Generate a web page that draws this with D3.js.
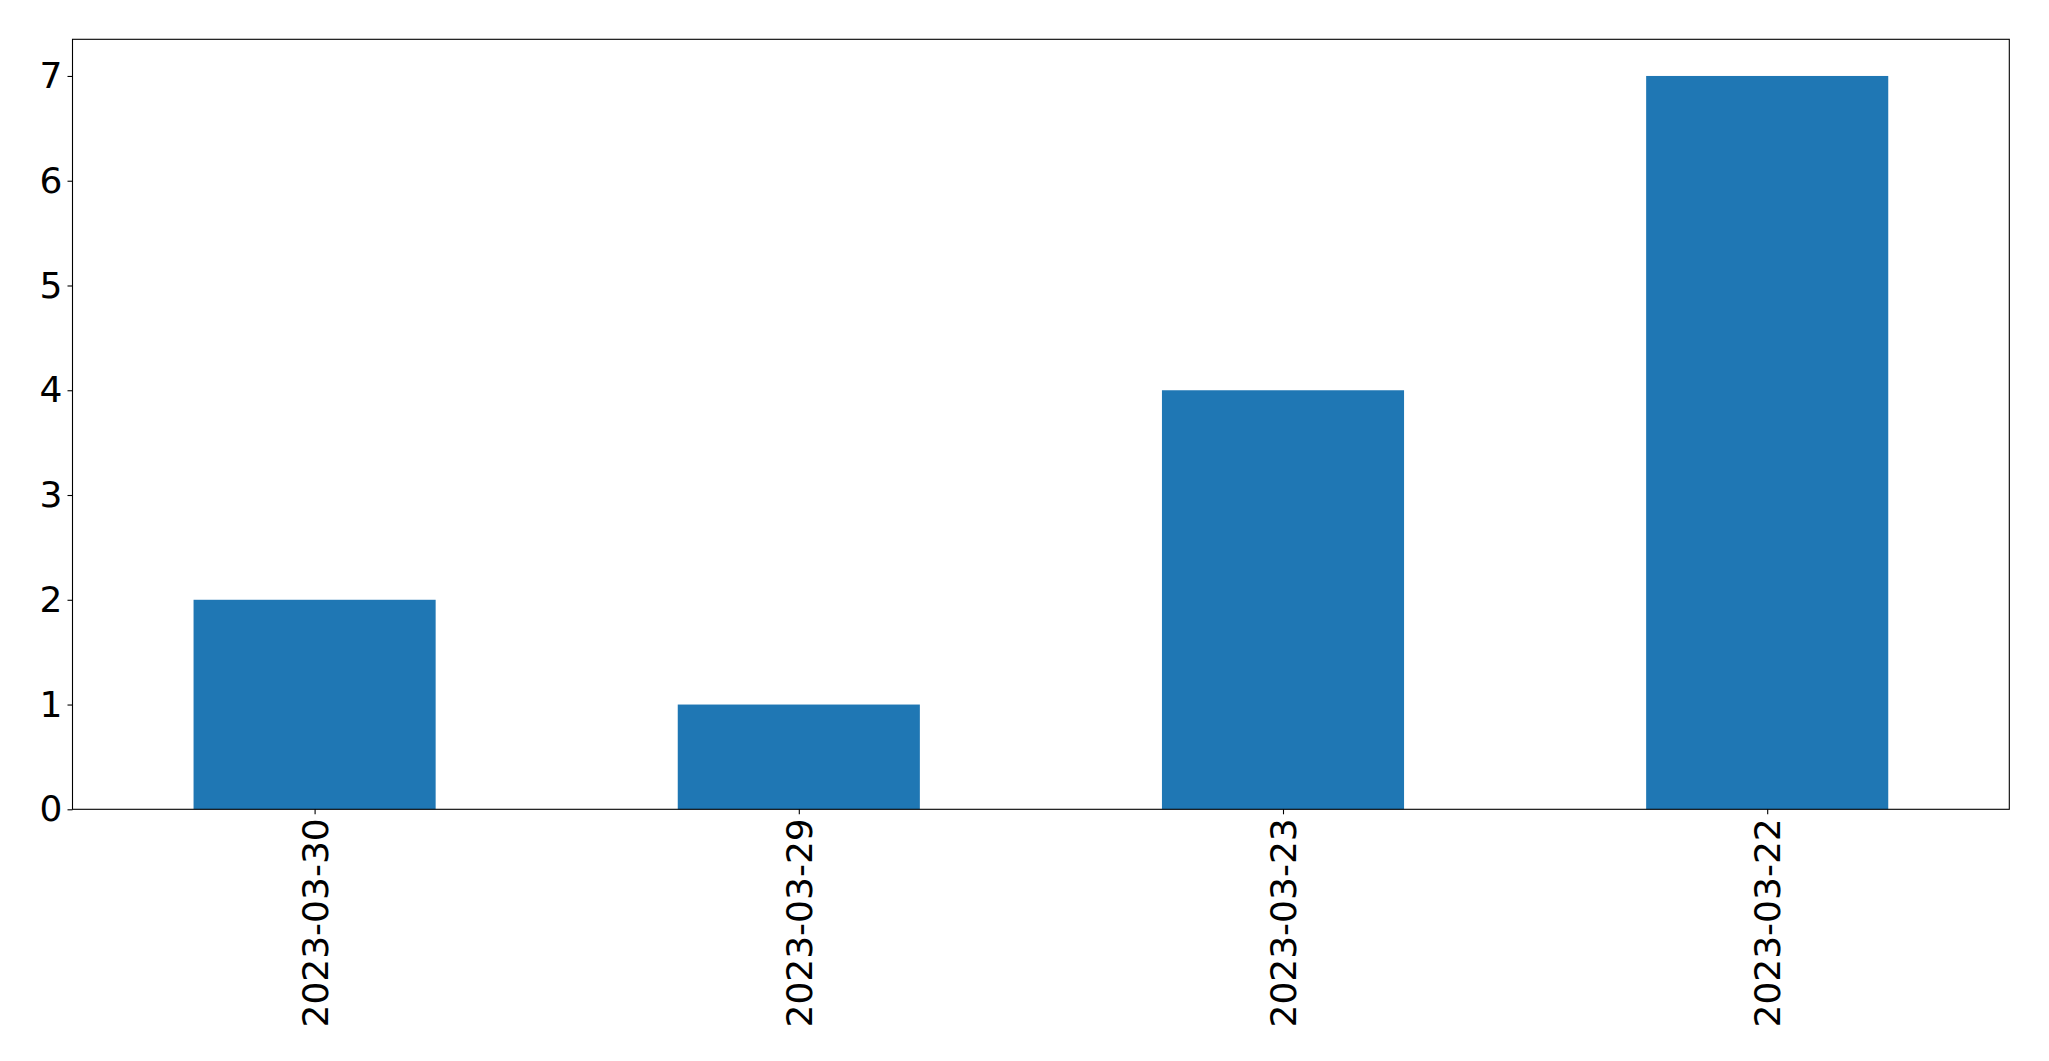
<!DOCTYPE html>
<html>
<head>
<meta charset="utf-8">
<script src="https://cdn.jsdelivr.net/npm/d3@7"></script>
<style>
  html, body { margin: 0; padding: 0; background: #fff; }
  svg { display: block; }
</style>
</head>
<body>
<svg id="chart" width="2049" height="1061"></svg>
<script>
const categories = ["2023-03-30", "2023-03-29", "2023-03-23", "2023-03-22"];
const values = [2, 1, 4, 7];
const yTicks = [0, 1, 2, 3, 4, 5, 6, 7];

const W = 2049, H = 1061;
const margin = { left: 72.5, right: W - 2009.3, top: 39.3, bottom: H - 809.3 };
const fontSize = 36;

const svg = d3.select("#chart");
const iw = W - margin.left - margin.right;
const ih = H - margin.top - margin.bottom;
const g = svg.append("g").attr("transform", `translate(${margin.left},${margin.top})`);

const x = d3.scaleLinear().domain([-0.5, categories.length - 0.5]).range([0, iw]);
const y = d3.scaleLinear().domain([0, d3.max(values) * 1.05]).range([ih, 0]);
const bw = x(0.25) - x(-0.25);

g.selectAll("rect.bar").data(values).enter().append("rect")
  .attr("class", "bar")
  .attr("x", (d, i) => x(i) - bw / 2)
  .attr("width", bw)
  .attr("y", d => y(d))
  .attr("height", d => y(0) - y(d))
  .attr("fill", "#1f77b4");

const tickLen = 5;
const yAxis = d3.axisLeft(y).tickValues(yTicks).tickFormat(d3.format("d")).tickSize(tickLen).tickPadding(5);
const yg = g.append("g").call(yAxis);
yg.select(".domain").remove();
yg.selectAll("line").attr("stroke", "#000").attr("stroke-width", 1.1);
yg.selectAll("text").attr("font-family", "DejaVu Sans").attr("font-size", fontSize).attr("fill", "#000");

const xAxis = d3.axisBottom(x).tickValues(d3.range(categories.length)).tickFormat(i => categories[i]).tickSize(tickLen).tickPadding(5);
const xg = g.append("g").attr("transform", `translate(0,${ih})`).call(xAxis);
xg.select(".domain").remove();
xg.selectAll("line").attr("stroke", "#000").attr("stroke-width", 1.1);
xg.selectAll("text")
  .attr("font-family", "DejaVu Sans").attr("font-size", fontSize).attr("fill", "#000")
  .attr("transform", null)
  .attr("y", 0).attr("x", 0).attr("dy", null)
  .attr("text-anchor", "end")
  .attr("dominant-baseline", "central")
  .attr("transform", `translate(0,${tickLen + 4}) rotate(-90)`);

g.append("rect").attr("x", 0).attr("y", 0).attr("width", iw).attr("height", ih)
  .attr("fill", "none").attr("stroke", "#000").attr("stroke-width", 1.1);
</script>
</body>
</html>
